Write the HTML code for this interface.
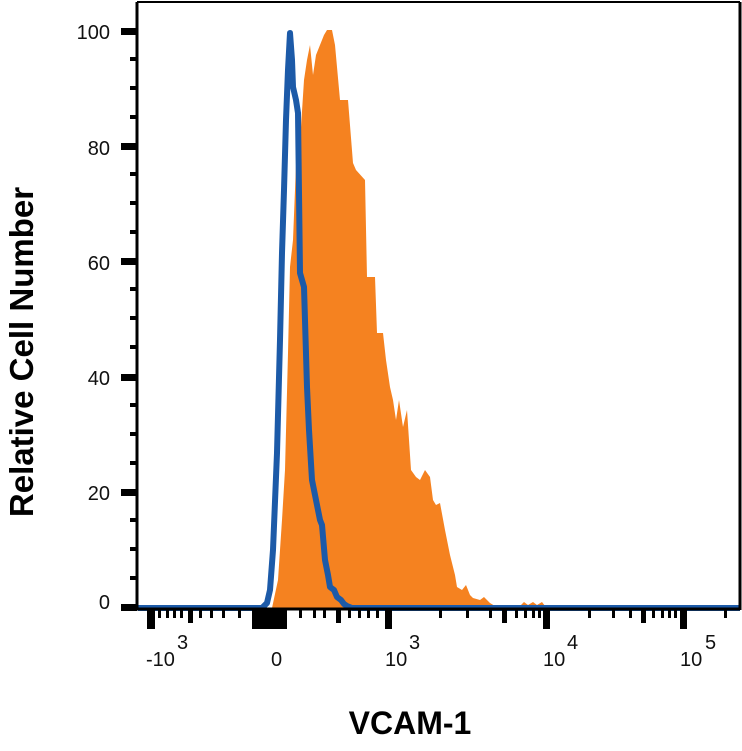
<!DOCTYPE html>
<html><head><style>body{margin:0;background:#fff}</style></head><body>
<svg width="742" height="746" xmlns="http://www.w3.org/2000/svg" font-family="Liberation Sans, sans-serif">
<rect width="742" height="746" fill="#fff"/>
<polygon fill="#f58220" points="272,608 278,580 282,520 285,470 288,353 290,267 293,240 297,140 301,127 304,80 307,60 310,45 313,75 316,55 320,45 324,35 327,30 332,30 335,45 340,100 342,100 348,100 353,163 356,170 365,180 367,277 375,277 377,333 383,333 386,360 390,387 393,400 396,420 399,400 403,427 407,410 411,470 416,477 420,480 425,470 430,477 433,500 436,505 440,503 445,530 450,555 455,575 457,587 462,590 466,585 470,595 473,598 480,600 484,597 490,603 495,606 520,606 524,602 528,605 533,602 537,605 542,602 545,606 548,608"/>
<polyline fill="none" stroke="#1c5aa8" stroke-width="6" stroke-linejoin="round" points="138,608 262,608 267,603 270,590 273,550 277,453 280,340 282,253 284,190 286,120 288,70 290,33 292,60 293,87 296,100 298,113 300,273 304,287 307,387 309,430 312,480 315,495 318,510 320,520 322,525 325,560 328,575 330,587 334,590 337,597 341,600 344,604 347,606 352,608 740,608"/>
<g stroke="#000">
<line x1="137" y1="2" x2="137" y2="610" stroke-width="3"/>
<line x1="137" y1="2" x2="740" y2="2" stroke-width="2"/>
<line x1="740" y1="2" x2="740" y2="610" stroke-width="3"/>
<line x1="137" y1="609" x2="740" y2="609" stroke-width="3"/>
</g>
<g fill="#000">
<rect x="121" y="28" width="16" height="7"/><rect x="121" y="143" width="16" height="7"/><rect x="121" y="258" width="16" height="7"/><rect x="121" y="374" width="16" height="7"/><rect x="121" y="489" width="16" height="7"/><rect x="121" y="604" width="16" height="7"/>
<rect x="130" y="57" width="7" height="4"/><rect x="130" y="86" width="7" height="4"/><rect x="130" y="115" width="7" height="4"/>
<rect x="130" y="172" width="7" height="4"/><rect x="130" y="201" width="7" height="4"/><rect x="130" y="230" width="7" height="4"/>
<rect x="130" y="287" width="7" height="4"/><rect x="130" y="316" width="7" height="4"/><rect x="130" y="345" width="7" height="4"/>
<rect x="130" y="403" width="7" height="4"/><rect x="130" y="432" width="7" height="4"/><rect x="130" y="461" width="7" height="4"/>
<rect x="130" y="518" width="7" height="4"/><rect x="130" y="547" width="7" height="4"/><rect x="130" y="576" width="7" height="4"/>
<rect x="147" y="609" width="8" height="20"/>
<rect x="252" y="609" width="35" height="20"/>
<rect x="385" y="609" width="7" height="20"/>
<rect x="543" y="609" width="7" height="20"/>
<rect x="680" y="609" width="7" height="20"/>
<g>
<rect x="158" y="609" width="3" height="9"/><rect x="166" y="609" width="3" height="9"/><rect x="173" y="609" width="3" height="9"/><rect x="180" y="609" width="3" height="9"/><rect x="188" y="609" width="5" height="14"/><rect x="199" y="609" width="3" height="9"/><rect x="210" y="609" width="3" height="9"/><rect x="222" y="609" width="3" height="9"/><rect x="238" y="609" width="3" height="9"/>
<rect x="299" y="609" width="3" height="9"/><rect x="313" y="609" width="3" height="9"/><rect x="323" y="609" width="3" height="9"/><rect x="336" y="609" width="5" height="14"/><rect x="348" y="609" width="3" height="9"/><rect x="358" y="609" width="3" height="9"/><rect x="367" y="609" width="3" height="9"/><rect x="376" y="609" width="3" height="9"/>
<rect x="439" y="609" width="3" height="9"/><rect x="466" y="609" width="3" height="9"/><rect x="489" y="609" width="3" height="9"/><rect x="502" y="609" width="5" height="14"/><rect x="515" y="609" width="3" height="9"/><rect x="524" y="609" width="3" height="9"/><rect x="532" y="609" width="3" height="9"/><rect x="538" y="609" width="3" height="9"/>
<rect x="588" y="609" width="3" height="9"/><rect x="612" y="609" width="3" height="9"/><rect x="629" y="609" width="3" height="9"/><rect x="641" y="609" width="5" height="14"/><rect x="652" y="609" width="3" height="9"/><rect x="661" y="609" width="3" height="9"/><rect x="668" y="609" width="3" height="9"/><rect x="674" y="609" width="3" height="9"/>
<rect x="724" y="609" width="3" height="9"/>
</g>
</g>
<g font-size="20" fill="#111" text-anchor="end">
<text x="110" y="39">100</text><text x="110" y="155">80</text><text x="110" y="270">60</text><text x="110" y="385">40</text><text x="110" y="500">20</text><text x="110" y="609">0</text>
</g>
<g font-size="20" fill="#111">
<text x="146" y="666">-10</text><text x="177" y="649">3</text>
<text x="271" y="666">0</text>
<text x="385" y="666">10</text><text x="409" y="649">3</text>
<text x="543" y="666">10</text><text x="567" y="649">4</text>
<text x="680" y="666">10</text><text x="705" y="649">5</text>
</g>
<text x="410" y="734" font-size="32" font-weight="bold" text-anchor="middle">VCAM-1</text>
<text transform="translate(33,352) rotate(-90)" font-size="33" font-weight="bold" text-anchor="middle">Relative Cell Number</text>
</svg>
</body></html>
